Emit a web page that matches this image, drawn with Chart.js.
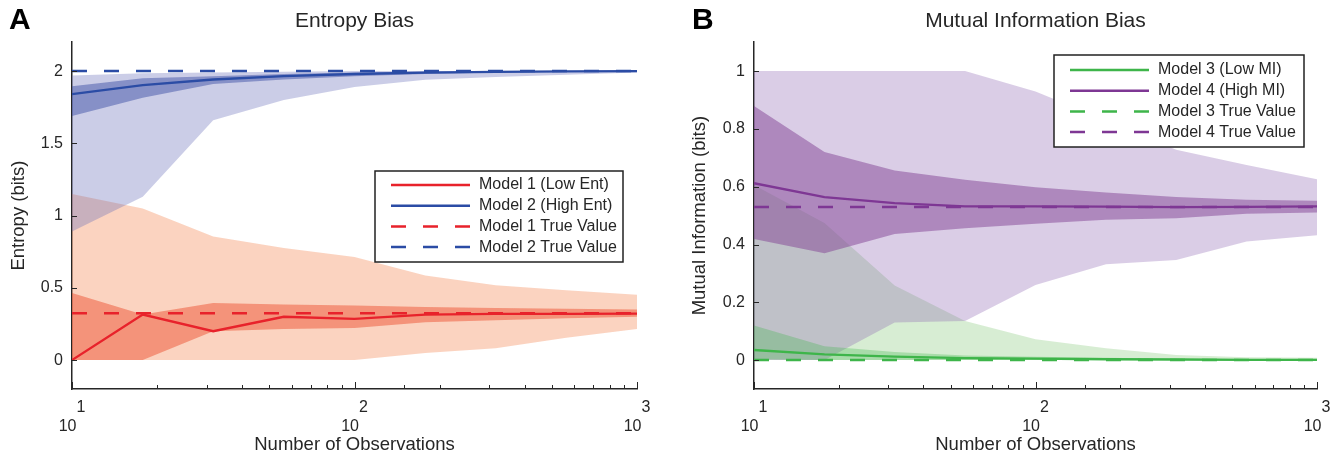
<!DOCTYPE html>
<html>
<head>
<meta charset="utf-8">
<title>Entropy and Mutual Information Bias</title>
<script src="https://cdn.jsdelivr.net/npm/chart.js@4.4.0/dist/chart.umd.min.js"></script>
<style>
  body { margin: 0; background: #fff; width: 1340px; height: 460px; position: relative; overflow: hidden; font-family: 'Liberation Sans', Arial, sans-serif; }
  .panel { position: absolute; top: 0; width: 670px; height: 460px; }
  .letter { position: absolute; top: 2px; font-weight: bold; font-size: 30px; color: #000; }
</style>
</head>
<body>
<div class="panel" style="left:0"><canvas id="chartA" width="670" height="460"></canvas></div>
<div class="panel" style="left:670px"><canvas id="chartB" width="670" height="460"></canvas></div>
<div class="letter" style="left:9px">A</div>
<div class="letter" style="left:692px">B</div>
<script>
// x positions (number of observations, log spaced)
const observations = [10, 17.8, 31.6, 56.2, 100, 178, 316, 562, 1000];
const xMajor = [10, 100, 1000];
const xExponents = ['1', '2', '3'];

// Panel A: entropy (bits)
const entropyTicks = [0, 0.5, 1, 1.5, 2];
const m1Mean     = [0, 0.315, 0.20, 0.30, 0.285, 0.315, 0.32, 0.32, 0.322];
const m1InnerHi  = [0.465, 0.315, 0.395, 0.385, 0.377, 0.368, 0.36, 0.355, 0.35];
const m1InnerLo  = [0, 0, 0.20, 0.215, 0.223, 0.262, 0.276, 0.29, 0.30];
const m1OuterHi  = [1.15, 1.05, 0.856, 0.776, 0.713, 0.585, 0.518, 0.483, 0.453];
const m1OuterLo  = [0, 0, 0, 0, 0, 0.05, 0.082, 0.155, 0.215];
const m1True = 0.325;

const m2Mean     = [1.84, 1.903, 1.942, 1.965, 1.98, 1.99, 1.995, 1.998, 2.0];
const m2InnerHi  = [1.896, 1.95, 1.965, 1.98, 1.99, 1.995, 2.0, 2.0, 2.0];
const m2InnerLo  = [1.69, 1.816, 1.91, 1.942, 1.965, 1.98, 1.99, 1.995, 1.998];
const m2OuterHi  = [1.97, 1.985, 1.99, 1.995, 2.0, 2.0, 2.0, 2.0, 2.0];
const m2OuterLo  = [0.89, 1.13, 1.66, 1.80, 1.89, 1.94, 1.96, 1.975, 1.99];
const m2True = 2;

// Panel B: mutual information (bits)
const miTicks = [0, 0.2, 0.4, 0.6, 0.8, 1];
const m3Mean     = [0.035, 0.02, 0.012, 0.007, 0.005, 0.003, 0.002, 0.001, 0.001];
const m3InnerHi  = [0.12, 0.048, 0.028, 0.016, 0.012, 0.008, 0.005, 0.004, 0.003];
const m3InnerLo  = [0.003, 0, 0, 0, 0, 0, 0, 0, 0];
const m3OuterHi  = [0.606, 0.474, 0.258, 0.135, 0.072, 0.041, 0.018, 0.01, 0.008];
const m3OuterLo  = [0, 0, 0, 0, 0, 0, 0, 0, 0];
const m3True = 0;

const m4Mean     = [0.612, 0.564, 0.543, 0.532, 0.532, 0.531, 0.529, 0.53, 0.532];
const m4InnerHi  = [0.879, 0.72, 0.656, 0.624, 0.598, 0.58, 0.564, 0.555, 0.551];
const m4InnerLo  = [0.419, 0.37, 0.436, 0.456, 0.472, 0.486, 0.491, 0.506, 0.511];
const m4OuterHi  = [1, 1, 1, 1, 0.929, 0.83, 0.728, 0.675, 0.626];
const m4OuterLo  = [0, 0, 0.13, 0.135, 0.26, 0.332, 0.346, 0.41, 0.432];
const m4True = 0.53;

const FONT = "'Liberation Sans', Arial, sans-serif";
const INK = '#262626';

function pts(ys) {
    return ys.map((y, i) => ({ x: observations[i], y: y }));
}

function flat(v) {
    return [{ x: observations[0], y: v }, { x: observations[observations.length - 1], y: v }];
}

// lower + upper dataset pair, upper fills down to lower
function band(lo, hi, color, order) {
    return [
        { data: pts(lo), borderWidth: 0, pointRadius: 0, fill: false, order: order },
        { data: pts(hi), borderWidth: 0, pointRadius: 0, backgroundColor: color, fill: '-1', order: order }
    ];
}

function meanLine(label, ys, color, order, legendIndex) {
    return { legendLabel: label, legendIndex: legendIndex, data: pts(ys), borderColor: color,
             borderWidth: 2.3, pointRadius: 0, fill: false, tension: 0, order: order };
}

function trueLine(label, v, color, order, legendIndex) {
    return { legendLabel: label, legendIndex: legendIndex, data: flat(v), borderColor: color,
             borderWidth: 2.5, borderDash: [15, 17], pointRadius: 0, fill: false, order: order };
}

// legend box drawn inside the plot, MATLAB style
const boxLegend = {
    id: 'boxLegend',
    afterDraw(chart, args, opts) {
        const ctx = chart.ctx;
        const items = chart.data.datasets.filter(d => d.legendLabel)
            .sort((a, b) => a.legendIndex - b.legendIndex);
        ctx.save();
        ctx.fillStyle = '#fff';
        ctx.fillRect(opts.left, opts.top, opts.width, opts.height);
        ctx.strokeStyle = '#222';
        ctx.lineWidth = 1.5;
        ctx.strokeRect(opts.left, opts.top, opts.width, opts.height);
        ctx.font = '16px ' + FONT;
        ctx.textBaseline = 'middle';
        items.forEach((d, i) => {
            const y = opts.top + opts.firstRow + i * opts.rowGap;
            ctx.beginPath();
            ctx.strokeStyle = d.borderColor;
            ctx.lineWidth = 2.5;
            ctx.setLineDash(d.borderDash || []);
            ctx.moveTo(opts.left + 16, y);
            ctx.lineTo(opts.left + 95, y);
            ctx.stroke();
            ctx.setLineDash([]);
            ctx.fillStyle = INK;
            ctx.fillText(d.legendLabel, opts.left + 104, y);
        });
        ctx.restore();
    }
};

// tick marks pointing into the plot
const innerTicks = {
    id: 'innerTicks',
    afterDatasetsDraw(chart) {
        const { ctx, chartArea, scales } = chart;
        ctx.save();
        ctx.strokeStyle = INK;
        ctx.lineWidth = 1;
        ctx.beginPath();
        scales.x.ticks.forEach(t => {
            const px = Math.round(scales.x.getPixelForValue(t.value)) + 0.5;
            const len = isMajor(t.value) ? 7 : 4;
            ctx.moveTo(px, chartArea.bottom);
            ctx.lineTo(px, chartArea.bottom - len);
        });
        scales.y.ticks.forEach(t => {
            const py = Math.round(scales.y.getPixelForValue(t.value)) + 0.5;
            ctx.moveTo(chartArea.left, py);
            ctx.lineTo(chartArea.left + 5, py);
        });
        ctx.stroke();
        ctx.restore();
    }
};

function isMajor(v) {
    return xMajor.some(m => Math.abs(m - v) < 1e-6);
}

function makeChart(id, cfg) {
    const ctx = document.getElementById(id);
    return new Chart(ctx, {
        type: 'line',
        data: { datasets: cfg.datasets },
        options: {
            responsive: false,
            animation: false,
            devicePixelRatio: 1,
            layout: { padding: { left: 0, right: cfg.padRight, top: 0, bottom: 0 } },
            plugins: {
                legend: { display: false },
                tooltip: { enabled: false },
                title: {
                    display: true, text: cfg.title, fullSize: false, color: INK,
                    font: { family: FONT, size: 21, weight: 'normal' },
                    padding: { top: 9, bottom: 8 }
                },
                boxLegend: cfg.legend
            },
            scales: {
                x: {
                    type: 'logarithmic', min: 10, max: 1000,
                    border: { display: true, color: INK, width: 1.5 },
                    grid: { display: false, drawTicks: false },
                    afterFit: s => { s.height = 71; },
                    ticks: {
                        autoSkip: false, maxRotation: 0, padding: 9, color: INK,
                        font: { family: FONT, size: 16 }, lineHeight: 1,
                        callback: v => {
                            const k = xMajor.findIndex(m => Math.abs(m - v) < 1e-6);
                            return k < 0 ? '' : ['    ' + xExponents[k], '10  '];
                        }
                    },
                    title: {
                        display: true, text: 'Number of Observations', color: INK,
                        font: { family: FONT, size: 18.5 }, padding: { top: 0, bottom: 4 }
                    }
                },
                y: {
                    min: cfg.yMin, max: cfg.yMax,
                    border: { display: true, color: INK, width: 1.5 },
                    grid: { display: false, drawTicks: false },
                    afterBuildTicks: s => { s.ticks = cfg.yTicks.map(v => ({ value: v })); },
                    afterFit: s => { s.width = cfg.yWidth; },
                    ticks: {
                        padding: 9, color: INK,
                        font: { family: FONT, size: 16 },
                        callback: v => String(v)
                    },
                    title: {
                        display: true, text: cfg.yTitle, color: INK,
                        font: { family: FONT, size: 18.5 }, padding: { top: cfg.yTitlePad, bottom: 0 }
                    }
                }
            }
        },
        plugins: [innerTicks, boxLegend]
    });
}

// colours
const red = '#E8222B', blue = '#2B4CA5', purple = '#7E3794', green = '#3EB54A';

makeChart('chartA', {
    title: 'Entropy Bias',
    yTitle: 'Entropy (bits)',
    yMin: -0.2, yMax: 2.2, yTicks: entropyTicks, yWidth: 72, padRight: 33, yTitlePad: 8,
    legend: { left: 375, top: 171, width: 248, height: 91, firstRow: 14, rowGap: 20.7 },
    datasets: [
        ...band(m1OuterLo, m1OuterHi, 'rgba(244,129,75,0.35)', 20),
        ...band(m2OuterLo, m2OuterHi, 'rgba(106,112,186,0.35)', 19),
        ...band(m1InnerLo, m1InnerHi, 'rgba(237,83,52,0.5)', 18),
        ...band(m2InnerLo, m2InnerHi, 'rgba(65,83,167,0.5)', 17),
        meanLine('Model 1 (Low Ent)', m1Mean, red, 6, 1),
        meanLine('Model 2 (High Ent)', m2Mean, blue, 5, 2),
        trueLine('Model 1 True Value', m1True, red, 4, 3),
        trueLine('Model 2 True Value', m2True, blue, 3, 4)
    ]
});

makeChart('chartB', {
    title: 'Mutual Information Bias',
    yTitle: 'Mutual Information (bits)',
    yMin: -0.1, yMax: 1.1, yTicks: miTicks, yWidth: 84, padRight: 23, yTitlePad: 19,
    legend: { left: 384, top: 55, width: 250, height: 92, firstRow: 15, rowGap: 20.7 },
    datasets: [
        ...band(m3OuterLo, m3OuterHi, 'rgba(122,195,108,0.3)', 20),
        ...band(m4OuterLo, m4OuterHi, 'rgba(139,99,177,0.32)', 19),
        ...band(m4InnerLo, m4InnerHi, 'rgba(132,67,150,0.5)', 18),
        ...band(m3InnerLo, m3InnerHi, 'rgba(60,180,70,0.3)', 17),
        meanLine('Model 3 (Low MI)', m3Mean, green, 6, 1),
        meanLine('Model 4 (High MI)', m4Mean, purple, 5, 2),
        trueLine('Model 3 True Value', m3True, green, 4, 3),
        trueLine('Model 4 True Value', m4True, purple, 3, 4)
    ]
});
</script>
</body>
</html>
